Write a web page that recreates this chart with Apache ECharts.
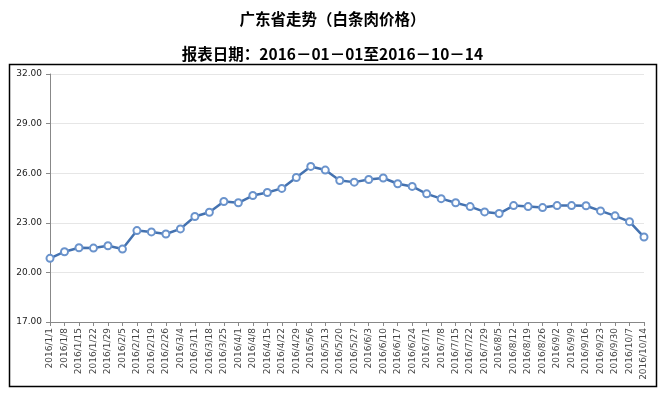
<!DOCTYPE html>
<html><head><meta charset="utf-8">
<script src="https://cdn.jsdelivr.net/npm/echarts@6/dist/echarts.min.js"></script>
<style>html,body{margin:0;padding:0;background:#fff}#c{width:665px;height:393px}</style>
</head><body><div id="c"></div>
<script>
var categories = ["2016/1/1","2016/1/8","2016/1/15","2016/1/22","2016/1/29","2016/2/5","2016/2/12","2016/2/19","2016/2/26","2016/3/4","2016/3/11","2016/3/18","2016/3/25","2016/4/1","2016/4/8","2016/4/15","2016/4/22","2016/4/29","2016/5/6","2016/5/13","2016/5/20","2016/5/27","2016/6/3","2016/6/10","2016/6/17","2016/6/24","2016/7/1","2016/7/8","2016/7/15","2016/7/22","2016/7/29","2016/8/5","2016/8/12","2016/8/19","2016/8/26","2016/9/2","2016/9/9","2016/9/16","2016/9/23","2016/9/30","2016/10/7","2016/10/14"];
var prices = [20.85,21.25,21.49,21.47,21.61,21.41,22.53,22.45,22.32,22.63,23.38,23.64,24.29,24.21,24.65,24.83,25.08,25.74,26.41,26.19,25.56,25.46,25.62,25.71,25.36,25.2,24.75,24.46,24.21,23.98,23.66,23.56,24.04,23.98,23.92,24.04,24.04,24.03,23.72,23.42,23.07,22.14];
var yTicks = {min:17, max:32, interval:3};
var titleText = "广东省走势（白条肉价格）";
var subtitleText = "报表日期：2016－01－01至2016－10－14";

var chart = echarts.init(document.getElementById('c'), null, {renderer:'canvas'});
chart.setOption({
  animation:false,
  title:[
    {text:titleText, left:'center', top:6, textStyle:{fontFamily:'Noto Sans CJK SC', fontSize:15.5, fontWeight:'bold', color:'#000'}},
    {text:subtitleText, left:'center', top:41, textStyle:{fontFamily:'Noto Sans CJK SC', fontSize:15.5, fontWeight:'bold', color:'#000'}}
  ],
  graphic:[{type:'rect', shape:{x:9.5,y:64.5,width:647,height:322}, style:{fill:null, stroke:'#000', lineWidth:1.5}, silent:true}],
  grid:{left:50, right:21, top:74, bottom:71},
  xAxis:{type:'category', data:categories, boundaryGap:false,
    axisLine:{lineStyle:{color:'#888'}},
    axisTick:{alignWithLabel:true, length:4, lineStyle:{color:'#888'}},
    axisLabel:{rotate:90, interval:0, fontSize:9, color:'#444', fontFamily:'DejaVu Sans', margin:6},
    splitLine:{show:false}},
  yAxis:{type:'value', min:yTicks.min, max:yTicks.max, interval:yTicks.interval,
    axisLine:{show:true, lineStyle:{color:'#888'}},
    axisTick:{show:true, length:4, lineStyle:{color:'#888'}},
    axisLabel:{fontSize:9, color:'#222', fontFamily:'DejaVu Sans', margin:8, formatter:function(v){return v.toFixed(2);}},
    splitLine:{lineStyle:{color:'#e6e6e6'}}},
  series:[{type:'line', data:prices, symbol:'emptyCircle', symbolSize:7,
    lineStyle:{color:'#4472b0', width:2.5},
    itemStyle:{color:'#6a93cc', borderColor:'#6a93cc', borderWidth:1}}]
});
</script></body></html>
